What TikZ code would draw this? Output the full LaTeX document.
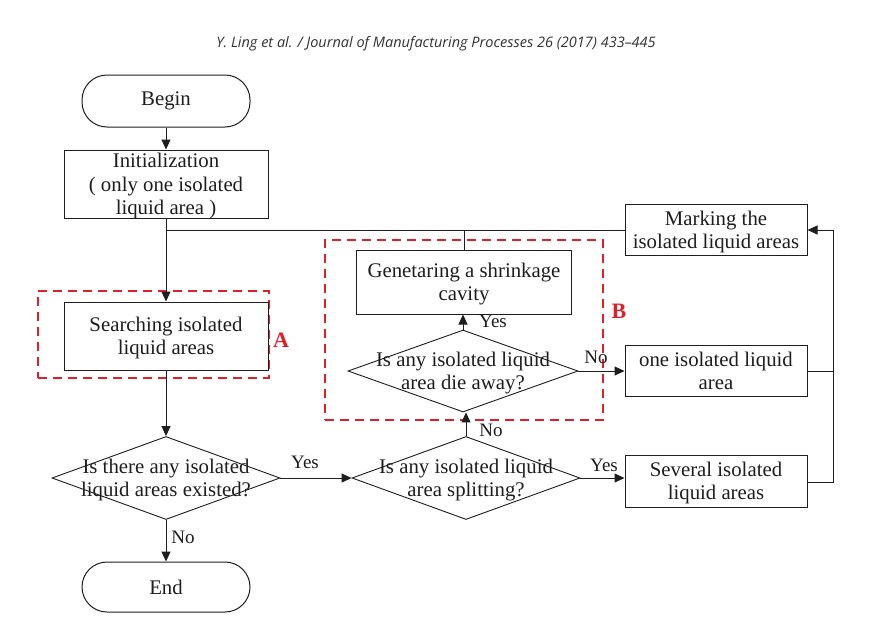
\documentclass[tikz,border=0pt]{standalone}
\usepackage{fontspec}
\setmainfont{Liberation Serif}
\newfontfamily\hdrfont{Open Sans}
\usetikzlibrary{shapes.geometric,arrows.meta}
\definecolor{markred}{RGB}{226,30,38}
\definecolor{inkgray}{RGB}{30,30,30}
\begin{document}
\begin{tikzpicture}[x=1pt,y=-1pt,
  txt/.style={font=\fontsize{20.8}{23.5}\selectfont,align=center,inner sep=0pt,text=inkgray},
  lbl/.style={font=\fontsize{19}{22}\selectfont,inner sep=0pt,text=inkgray},
  box/.style={draw=inkgray,line width=1pt,rectangle,txt,text depth=-3pt},
  term/.style={draw=inkgray,line width=1pt,rectangle,rounded corners=25pt,txt},
  dia/.style={draw=inkgray,line width=0.9pt,diamond,inner sep=0pt},
  arr/.style={draw=inkgray,line width=1pt,-{Triangle[length=10pt,width=9pt]}},
  ln/.style={draw=inkgray,line width=1pt},
  region/.style={draw=markred,line width=1.6pt,dash pattern=on 9pt off 6pt},
  tag/.style={text=markred,font=\fontsize{22}{24}\selectfont\bfseries,inner sep=0pt}]
\useasboundingbox (0,0) rectangle (882,629);
\fill[white] (0,0) rectangle (882,629);
% header
\node[font=\hdrfont\itshape\fontsize{14.5}{16}\selectfont,text=black!80,inner sep=0pt] (hdr) at (436,44) {Y. Ling et al. / Journal of Manufacturing Processes 26 (2017) 433–445};
% dashed regions
\node[region,minimum width=231pt,minimum height=87pt,inner sep=0pt] (regA) at (153.5,334.5) {};
\node[region,minimum width=278pt,minimum height=180pt,inner sep=0pt] (regB) at (464,330) {};
\node[tag] (tagA) at (281,340) {A};
\node[tag] (tagB) at (619,311) {B};
% nodes
\node[term,minimum width=168pt,minimum height=52pt] (begin) at (166,101) {Begin};
\node[box,minimum width=204pt,minimum height=68pt] (init) at (166,184) {Initialization\\( only one isolated\\liquid area )};
\node[box,minimum width=204pt,minimum height=68pt] (search) at (166,336) {Searching isolated\\liquid areas};
\node[dia,minimum width=228pt,minimum height=83pt] (d1) at (166,478) {};
\node[txt,yshift=-2pt] (d1t) at (d1) {Is there any isolated\\liquid areas existed?};
\node[term,minimum width=168pt,minimum height=50pt] (end) at (166,587) {End};
\node[dia,minimum width=228pt,minimum height=83pt] (d2) at (466,478) {};
\node[txt,yshift=-2pt] (d2t) at (d2) {Is any isolated liquid\\area splitting?};
\node[dia,minimum width=230pt,minimum height=82pt] (d3) at (463,371) {};
\node[txt,yshift=-2pt] (d3t) at (d3) {Is any isolated liquid\\area die away?};
\node[box,minimum width=215pt,minimum height=64pt] (gen) at (464,282) {Genetaring a shrinkage\\cavity};
\node[box,minimum width=182pt,minimum height=52pt] (several) at (716,481) {Several isolated\\liquid areas};
\node[box,minimum width=182pt,minimum height=51pt] (one) at (716,371) {one isolated liquid\\area};
\node[box,minimum width=182pt,minimum height=51pt] (mark) at (716,230) {Marking the\\isolated liquid areas};
% junction coordinates
\coordinate (jl) at (init.south |- mark.west);
\coordinate (jg) at (gen.north |- mark.west);
\coordinate (rs) at (833,482);
\coordinate (ro) at (833,371);
\coordinate (rm) at (833,230);
% connectors
\draw[arr] (begin.south) -- (init.north);
\draw[arr] (init.south) -- (search.north);
\draw[arr] (search.south) -- (d1.north);
\draw[arr] (d1.south) -- (end.north);
\draw[arr] (d1.east) -- (d2.west);
\draw[arr] (d2.east) -- (d2.east -| several.west);
\draw[arr] (d2.north) -- (d2.north |- d3.south);
\draw[arr] (d3.north) -- (d3.north |- gen.south);
\draw[arr] (d3.east) -- (one.west);
\draw[arr] (several.east |- rs) -- (rs) -- (rm) -- (mark.east);
\draw[ln] (one.east) -- (ro);
\draw[ln] (mark.west) -- (jl);
\draw[ln] (gen.north) -- (jg);
% labels
\node[lbl] (y1) at (305,462) {Yes};
\node[lbl] (y2) at (604,465) {Yes};
\node[lbl] (n1) at (183,537) {No};
\node[lbl] (n2) at (491,430) {No};
\node[lbl] (y3) at (493,321) {Yes};
\node[lbl] (n3) at (596,357) {No};
\end{tikzpicture}
\end{document}
